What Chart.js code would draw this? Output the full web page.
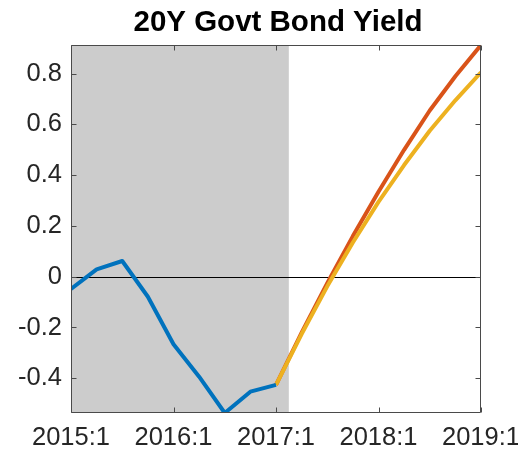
<!DOCTYPE html>
<html>
<head>
<meta charset="utf-8">
<script src="https://cdn.jsdelivr.net/npm/chart.js@4/dist/chart.umd.min.js"></script>
<style>
  html, body { margin: 0; padding: 0; background: #ffffff; }
  #wrap { width: 518px; height: 453px; }
</style>
</head>
<body>
<div id="wrap"><canvas id="c" width="518" height="453"></canvas></div>
<script>
// Quarterly periods shown on the x axis
const quarters = [
  '2015:1', '2015:2', '2015:3', '2015:4',
  '2016:1', '2016:2', '2016:3', '2016:4',
  '2017:1', '2017:2', '2017:3', '2017:4',
  '2018:1', '2018:2', '2018:3', '2018:4',
  '2019:1'
];

// Observed yield (history)
const history = [-0.048, 0.029, 0.062, -0.079, -0.266, -0.394, -0.537, -0.453, -0.426];

// Two projection paths starting from the last observation
const pathA = [-0.426, -0.220, -0.025, 0.160, 0.335, 0.500, 0.655, 0.790, 0.913];
const pathB = [-0.426, -0.226, -0.038, 0.135, 0.295, 0.440, 0.575, 0.695, 0.805];

// Axis settings
const yTicks = [-0.4, -0.2, 0, 0.2, 0.4, 0.6, 0.8];
const xTickIndex = [0, 4, 8, 12, 16];
const yMin = -0.537;
const yMax = 0.913;
const shadeEnd = 8.5; // history shading ends half a quarter after 2017:1

const titleText = '20Y Govt Bond Yield';

const histStart = 0;
const projStart = history.length - 1;

function placeSeries(values, start) {
  const out = quarters.map(() => null);
  values.forEach((v, i) => { out[start + i] = v; });
  return out;
}

const FONT = "'Liberation Sans', Arial, Helvetica, sans-serif";
const AXIS_COLOR = '#4a4a4a';
const TICK_LEN = 5;

const shadePlugin = {
  id: 'shade',
  beforeDatasetsDraw(chart) {
    const { ctx, chartArea: a, scales: { x, y } } = chart;
    ctx.save();
    ctx.fillStyle = '#cccccc';
    const x0 = x.getPixelForValue(0);
    const x1 = x.getPixelForValue(shadeEnd);
    ctx.fillRect(x0, a.top, x1 - x0, a.bottom - a.top);
    // zero reference line
    const y0 = Math.round(y.getPixelForValue(0)) + 0.5;
    ctx.strokeStyle = '#000000';
    ctx.lineWidth = 1;
    ctx.beginPath();
    ctx.moveTo(a.left, y0);
    ctx.lineTo(a.right, y0);
    ctx.stroke();
    ctx.restore();
  }
};

const boxPlugin = {
  id: 'box',
  afterDatasetsDraw(chart) {
    const { ctx, chartArea: a, scales: { x, y } } = chart;
    ctx.save();
    ctx.strokeStyle = AXIS_COLOR;
    ctx.lineWidth = 1;
    const L = Math.round(a.left) + 0.5, R = Math.round(a.right) - 0.5;
    const T = Math.round(a.top) + 0.5, B = Math.round(a.bottom) - 0.5;
    ctx.beginPath();
    ctx.rect(L, T, R - L, B - T);
    // inward tick marks on all four sides
    xTickIndex.forEach(i => {
      const px = Math.round(x.getPixelForValue(i)) + 0.5;
      ctx.moveTo(px, B); ctx.lineTo(px, B - TICK_LEN);
      ctx.moveTo(px, T); ctx.lineTo(px, T + TICK_LEN);
    });
    yTicks.forEach(v => {
      const py = Math.round(y.getPixelForValue(v)) + 0.5;
      ctx.moveTo(L, py); ctx.lineTo(L + TICK_LEN, py);
      ctx.moveTo(R, py); ctx.lineTo(R - TICK_LEN, py);
    });
    ctx.stroke();

    // title centred over the plot area
    ctx.fillStyle = '#000000';
    ctx.font = 'bold 29.5px ' + FONT;
    ctx.textAlign = 'center';
    ctx.textBaseline = 'alphabetic';
    ctx.fillText(titleText, (a.left + a.right) / 2 + 2, 31);
    ctx.restore();
  }
};

new Chart(document.getElementById('c'), {
  type: 'line',
  data: {
    labels: quarters,
    datasets: [
      {
        label: 'History',
        data: placeSeries(history, histStart),
        borderColor: '#0072BD',
        borderWidth: 4,
        order: 0
      },
      {
        label: 'Path B',
        data: placeSeries(pathB, projStart),
        borderColor: '#EDB120',
        borderWidth: 4,
        order: 1
      },
      {
        label: 'Path A',
        data: placeSeries(pathA, projStart),
        borderColor: '#D95319',
        borderWidth: 4,
        order: 2
      }
    ]
  },
  plugins: [shadePlugin, boxPlugin],
  options: {
    responsive: false,
    animation: false,
    events: [],
    spanGaps: false,
    elements: {
      point: { radius: 0 },
      line: { tension: 0, borderJoinStyle: 'round', borderCapStyle: 'butt', fill: false }
    },
    datasets: { line: { clip: 0 } },
    layout: { padding: { left: 0, right: 37, top: 45, bottom: 0 } },
    plugins: {
      legend: { display: false },
      tooltip: { enabled: false },
      title: { display: false }
    },
    scales: {
      x: {
        type: 'category',
        offset: false,
        grid: { display: false, drawTicks: false },
        border: { display: false },
        ticks: {
          autoSkip: false,
          maxRotation: 0,
          minRotation: 0,
          padding: 10,
          color: '#262626',
          font: { family: FONT, size: 25.5 },
          callback: (v, i) => (xTickIndex.includes(i) ? quarters[i] : '')
        },
        afterFit(scale) {
          scale.height = 40;
          scale.paddingLeft = 0;
          scale.paddingRight = 0;
        }
      },
      y: {
        type: 'linear',
        min: yMin,
        max: yMax,
        grid: { display: false, drawTicks: false },
        border: { display: false },
        ticks: {
          padding: 9,
          color: '#262626',
          font: { family: FONT, size: 25.5 },
          callback: v => String(Math.round(v * 10) / 10)
        },
        afterBuildTicks(scale) {
          scale.ticks = yTicks.map(v => ({ value: v }));
        },
        afterFit(scale) {
          scale.width = 71;
          scale.paddingTop = 0;
          scale.paddingBottom = 0;
        }
      }
    }
  }
});
</script>
</body>
</html>
